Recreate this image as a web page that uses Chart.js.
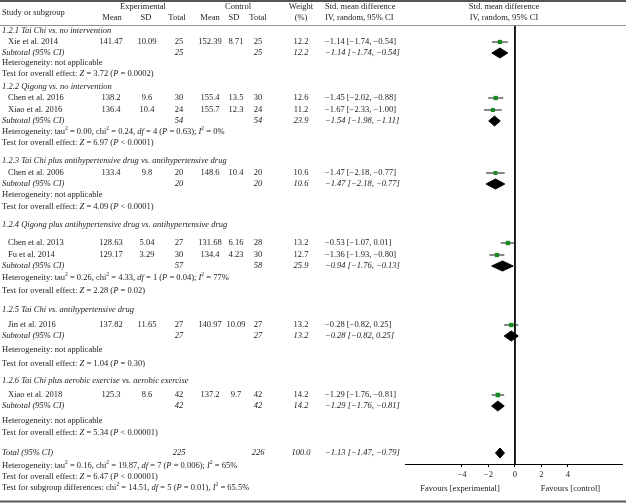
<!DOCTYPE html>
<html>
<head>
<meta charset="utf-8">
<script src="https://cdn.jsdelivr.net/npm/chart.js@4.4.1/dist/chart.umd.min.js"></script>
<style>
  body { margin: 0; background: #fff; }
  #chart { display: block; }
</style>
</head>
<body>
<canvas id="chart" width="626" height="504"></canvas>
<script>
// studies
const studyNames = ["Xie et al. 2014", "Chen et al. 2016", "Xiao et al. 2016", "Chen et al. 2006",
  "Chen et al. 2013", "Fu et al. 2014", "Jin et al. 2016", "Xiao et al. 2018"];
const expMean = [141.47, 138.2, 136.4, 133.4, 128.63, 129.17, 137.82, 125.3];
const expSD = [10.09, 9.6, 10.4, 9.8, 5.04, 3.29, 11.65, 8.6];
const expN = [25, 30, 24, 20, 27, 30, 27, 42];
const ctlMean = [152.39, 155.4, 155.7, 148.6, 131.68, 134.4, 140.97, 137.2];
const ctlSD = [8.71, 13.5, 12.3, 10.4, 6.16, 4.23, 10.09, 9.7];
const ctlN = [25, 30, 24, 20, 28, 30, 27, 42];
const weight = [12.2, 12.6, 11.2, 10.6, 13.2, 12.7, 13.2, 14.2];
const smd = [-1.14, -1.45, -1.67, -1.47, -0.53, -1.36, -0.28, -1.29];
const ciLow = [-1.74, -2.02, -2.33, -2.18, -1.07, -1.93, -0.82, -1.76];
const ciHigh = [-0.54, -0.88, -1.00, -0.77, 0.01, -0.80, 0.25, -0.81];

// subgroups
const groupTitles = [
  "1.2.1 Tai Chi vs. no intervention",
  "1.2.2 Qigong vs. no intervention",
  "1.2.3 Tai Chi plus antihypertensive drug vs. antihypertensive drug",
  "1.2.4 Qigong plus antihypertensive drug vs. antihypertensive drug",
  "1.2.5 Tai Chi vs. antihypertensive drug",
  "1.2.6 Tai Chi plus aerobic exercise vs. aerobic exercise"
];
const subExpN = [25, 54, 20, 57, 27, 42];
const subCtlN = [25, 54, 20, 58, 27, 42];
const subWeight = [12.2, 23.9, 10.6, 25.9, 13.2, 14.2];
const subSmd = [-1.14, -1.54, -1.47, -0.94, -0.28, -1.29];
const subLow = [-1.74, -1.98, -2.18, -1.76, -0.82, -1.76];
const subHigh = [-0.54, -1.11, -0.77, -0.13, 0.25, -0.81];
const subHet = [
  "Heterogeneity: not applicable",
  "Heterogeneity: tau^2 = 0.00, chi^2 = 0.24, _df_ = 4 (_P_ = 0.63); _I_^2 = 0%",
  "Heterogeneity: not applicable",
  "Heterogeneity: tau^2 = 0.26, chi^2 = 4.33, _df_ = 1 (_P_ = 0.04); _I_^2 = 77%",
  "Heterogeneity: not applicable",
  "Heterogeneity: not applicable"
];
const subTest = [
  "Test for overall effect: _Z_ = 3.72 (_P_ = 0.0002)",
  "Test for overall effect: _Z_ = 6.97 (_P_ < 0.0001)",
  "Test for overall effect: _Z_ = 4.09 (_P_ < 0.0001)",
  "Test for overall effect: _Z_ = 2.28 (_P_ = 0.02)",
  "Test for overall effect: _Z_ = 1.04 (_P_ = 0.30)",
  "Test for overall effect: _Z_ = 5.34 (_P_ < 0.00001)"
];

// overall
const totalExpN = 225;
const totalCtlN = 226;
const totalWeight = 100.0;
const totalSmd = -1.13;
const totalLow = -1.47;
const totalHigh = -0.79;
const totalNotes = [
  "Heterogeneity: tau^2 = 0.16, chi^2 = 19.87, _df_ = 7 (_P_ = 0.006); _I_^2 = 65%",
  "Test for overall effect: _Z_ = 6.47 (_P_ < 0.00001)",
  "Test for subgroup differences: chi^2 = 14.51, _df_ = 5 (_P_ = 0.01), _I_^2 = 65.5%"
];
const xTicks = [-4, -2, 0, 2, 4];

// layout (row positions in pixels)
const groupY = [31, 87, 161, 225, 310, 381];
const studyY = [42, 98, 110, 173, 243, 255, 325, 395];
const subY = [53, 121, 184, 266, 336, 406];
const hetY = [63, 132, 195, 278, 350, 421];
const testY = [74, 143, 207, 291, 364, 433];
const totalY = 453;
const totalNotesY = [466, 477, 488];
const col = { expMean: 111, expSD: 147, expN: 179, ctlMean: 210, ctlSD: 236, ctlN: 258, weight: 301, ci: 325 };

const FONT = '"Liberation Serif", "DejaVu Serif", serif';
const FS = 8.5;
const TXT = '#1c1c1c';

function num(v) {
  return (v < 0 ? '\u2212' : '') + Math.abs(v).toFixed(2);
}
function ciText(e, l, h) {
  return num(e) + ' [' + num(l) + ', ' + num(h) + ']';
}

// draws text with _italic_ toggles and ^ superscripts
function rich(ctx, str, x, y, italic, align) {
  const segs = [];
  let it = !!italic, buf = '';
  for (let i = 0; i < str.length; i++) {
    const c = str[i];
    if (c === '_') { if (buf) segs.push({ t: buf, it: it }); buf = ''; it = !it; continue; }
    if (c === '^') { if (buf) segs.push({ t: buf, it: it }); buf = ''; segs.push({ t: str[i + 1], it: it, sup: true }); i++; continue; }
    buf += c;
  }
  if (buf) segs.push({ t: buf, it: it });
  const fontOf = s => (s.it ? 'italic ' : '') + (s.sup ? FS * 0.65 : FS) + 'px ' + FONT;
  let w = 0;
  segs.forEach(s => { ctx.font = fontOf(s); s.w = ctx.measureText(s.t).width; w += s.w; });
  let cx = align === 'center' ? x - w / 2 : x;
  ctx.textAlign = 'left';
  ctx.textBaseline = 'middle';
  segs.forEach(s => {
    ctx.font = fontOf(s);
    ctx.fillText(s.t, cx, s.sup ? y - 3 : y);
    cx += s.w;
  });
}

function txt(ctx, s, x, y, align, italic) {
  ctx.font = (italic ? 'italic ' : '') + FS + 'px ' + FONT;
  ctx.textAlign = align || 'left';
  ctx.textBaseline = 'middle';
  ctx.fillText(s, x, y);
}

const tablePlugin = {
  id: 'table',
  beforeDraw(chart) {
    const ctx = chart.ctx;
    ctx.save();
    ctx.fillStyle = '#fff';
    ctx.fillRect(0, 0, chart.width, chart.height);
    ctx.restore();
  },
  afterDraw(chart) {
    const ctx = chart.ctx;
    const xs = chart.scales.x;
    const ys = chart.scales.y;
    const Y = v => ys.getPixelForValue(v);
    ctx.save();
    ctx.fillStyle = TXT;

    // rules
    ctx.strokeStyle = '#555';
    ctx.lineWidth = 2;
    ctx.beginPath(); ctx.moveTo(0, 1); ctx.lineTo(chart.width, 1); ctx.stroke();
    ctx.beginPath(); ctx.moveTo(0, 501.5); ctx.lineTo(chart.width, 501.5); ctx.stroke();
    ctx.lineWidth = 0.8;
    ctx.strokeStyle = '#777';
    ctx.beginPath(); ctx.moveTo(0, 25.5); ctx.lineTo(chart.width, 25.5); ctx.stroke();

    // header
    txt(ctx, 'Study or subgroup', 2, 13);
    txt(ctx, 'Experimental', 143, 7, 'center');
    txt(ctx, 'Control', 238, 7, 'center');
    txt(ctx, 'Weight', col.weight, 7, 'center');
    txt(ctx, 'Mean', col.expMean + 1, 18, 'center');
    txt(ctx, 'SD', col.expSD - 1, 18, 'center');
    txt(ctx, 'Total', col.expN - 2, 18, 'center');
    txt(ctx, 'Mean', col.ctlMean, 18, 'center');
    txt(ctx, 'SD', col.ctlSD - 2, 18, 'center');
    txt(ctx, 'Total', col.ctlN, 18, 'center');
    txt(ctx, '(%)', col.weight, 18, 'center');
    txt(ctx, 'Std. mean difference', col.ci, 7);
    txt(ctx, 'IV, random, 95% CI', col.ci, 18);
    const mid = 504;
    txt(ctx, 'Std. mean difference', mid, 7, 'center');
    txt(ctx, 'IV, random, 95% CI', mid, 18, 'center');

    // studies
    studyNames.forEach((n, i) => {
      const y = Y(studyY[i]);
      txt(ctx, n, 8, y);
      txt(ctx, String(expMean[i]), col.expMean, y, 'center');
      txt(ctx, String(expSD[i]), col.expSD, y, 'center');
      txt(ctx, String(expN[i]), col.expN, y, 'center');
      txt(ctx, String(ctlMean[i]), col.ctlMean, y, 'center');
      txt(ctx, String(ctlSD[i]), col.ctlSD, y, 'center');
      txt(ctx, String(ctlN[i]), col.ctlN, y, 'center');
      txt(ctx, weight[i].toFixed(1), col.weight, y, 'center');
      txt(ctx, ciText(smd[i], ciLow[i], ciHigh[i]), col.ci, y);
    });

    // subgroups
    groupTitles.forEach((g, i) => {
      txt(ctx, g, 2, Y(groupY[i]), 'left', true);
      const y = Y(subY[i]);
      txt(ctx, 'Subtotal (95% CI)', 2, y, 'left', true);
      txt(ctx, String(subExpN[i]), col.expN, y, 'center', true);
      txt(ctx, String(subCtlN[i]), col.ctlN, y, 'center', true);
      txt(ctx, subWeight[i].toFixed(1), col.weight, y, 'center', true);
      txt(ctx, ciText(subSmd[i], subLow[i], subHigh[i]), col.ci, y, 'left', true);
      rich(ctx, subHet[i], 2, Y(hetY[i]));
      rich(ctx, subTest[i], 2, Y(testY[i]));
    });

    // total
    const ty = Y(totalY);
    txt(ctx, 'Total (95% CI)', 2, ty, 'left', true);
    txt(ctx, String(totalExpN), col.expN, ty, 'center', true);
    txt(ctx, String(totalCtlN), col.ctlN, ty, 'center', true);
    txt(ctx, totalWeight.toFixed(1), col.weight, ty, 'center', true);
    txt(ctx, ciText(totalSmd, totalLow, totalHigh), col.ci, ty, 'left', true);
    totalNotes.forEach((s, i) => rich(ctx, s, 2, Y(totalNotesY[i])));

    // favours labels
    const fy = 489;
    const z = xs.getPixelForValue(0);
    txt(ctx, 'Favours [experimental]', (xs.left + z) / 2, fy, 'center');
    txt(ctx, 'Favours [control]', (z + 626) / 2, fy, 'center');
    ctx.restore();
  }
};

const datasets = [];
// study CI lines
studyNames.forEach((n, i) => {
  datasets.push({
    type: 'line',
    data: [{ x: ciLow[i], y: studyY[i] }, { x: ciHigh[i], y: studyY[i] }],
    borderColor: '#111', borderWidth: 1, pointRadius: 0, order: 2
  });
});
// study squares
datasets.push({
  type: 'scatter',
  data: smd.map((v, i) => ({ x: v, y: studyY[i] })),
  pointStyle: 'rect',
  pointRadius: weight.map(w => Math.sqrt(w) * 0.85),
  backgroundColor: '#178a22', borderColor: '#178a22', borderWidth: 0, order: 0
});
// diamonds
function diamond(e, l, h, y) {
  return {
    type: 'line',
    data: [{ x: l, y: y }, { x: e, y: y - 5 }, { x: h, y: y }, { x: e, y: y + 5 }, { x: l, y: y }],
    borderColor: '#000', backgroundColor: '#000', borderWidth: 1,
    fill: 'shape', tension: 0, pointRadius: 0, order: 1
  };
}
subSmd.forEach((v, i) => datasets.push(diamond(v, subLow[i], subHigh[i], subY[i])));
datasets.push(diamond(totalSmd, totalLow, totalHigh, totalY));
// line of no effect
datasets.push({
  type: 'line',
  data: [{ x: 0, y: 26 }, { x: 0, y: 464 }],
  borderColor: '#000', borderWidth: 1, pointRadius: 0, order: 3
});

new Chart(document.getElementById('chart'), {
  type: 'scatter',
  data: { datasets: datasets },
  options: {
    responsive: false,
    animation: false,
    layout: { padding: { left: 405, right: 0, top: 26, bottom: 24 } },
    plugins: { legend: { display: false }, tooltip: { enabled: false } },
    scales: {
      x: {
        type: 'linear', min: -8.3, max: 8.08,
        afterBuildTicks: s => { s.ticks = xTicks.map(v => ({ value: v })); },
        afterFit: s => { s.height = 16; s.paddingLeft = 0; s.paddingRight = 0; },
        grid: { drawOnChartArea: false, drawTicks: true, tickLength: 3, color: '#000' },
        border: { display: true, color: '#000', width: 1 },
        ticks: {
          padding: 3, color: TXT, font: { family: FONT, size: FS },
          maxRotation: 0,
          callback: v => (v < 0 ? '\u2212' : '') + Math.abs(v)
        }
      },
      y: { type: 'linear', min: 26, max: 464, reverse: true, display: false,
        afterFit: s => { s.width = 0; } }
    }
  },
  plugins: [tablePlugin]
});
</script>
</body>
</html>
